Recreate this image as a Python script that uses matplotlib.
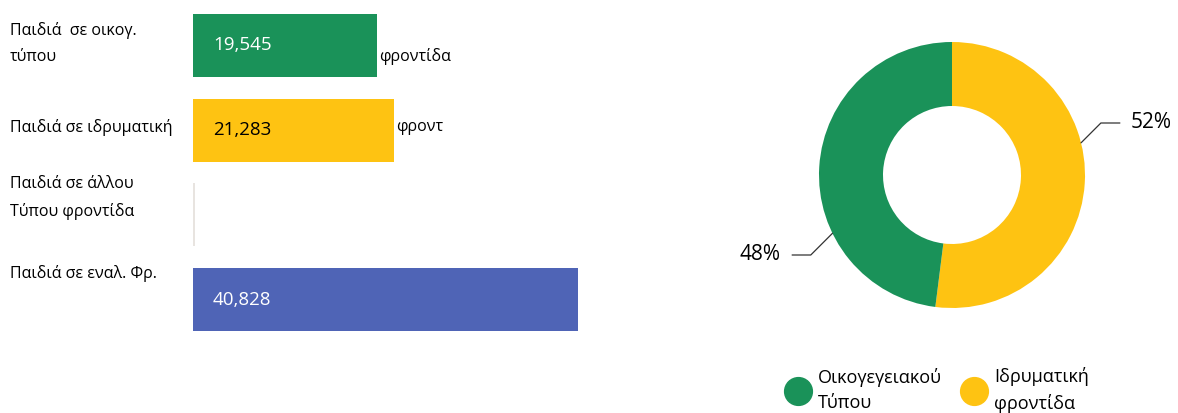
import numpy as np
import matplotlib.pyplot as plt
import matplotlib.transforms as mtransforms
from matplotlib.lines import Line2D

plt.rcParams['font.family'] = ['Open Sans', 'DejaVu Sans']

# bar chart data
bar_labels = ['Παιδιά  σε οικογ.\nτύπου', 'Παιδιά σε ιδρυματική', 'Παιδιά σε άλλου\nΤύπου φροντίδα', 'Παιδιά σε εναλ. Φρ.']
bar_values = [19545, 21283, 200, 40828]
bar_texts = ['19,545', '21,283', '', '40,828']
bar_overflow = ['φροντίδα', 'φροντ', '', '']
bar_colors = ['#1a9259', '#fec312', '#e8e4e0', '#4f64b6']
text_colors = ['white', 'black', 'black', 'white']

# donut data
pie_labels = ['Οικογεγειακού\nΤύπου', 'Ιδρυματική\nφροντίδα']
pie_values = [48, 52]
pie_colors = ['#1a9259', '#fec312']

W, H = 1178, 413
fig = plt.figure(figsize=(W / 100, H / 100), dpi=100)

# ---- bars ----
ax = fig.add_axes([193 / W, 1 - 331 / H, 385 / W, 317 / H])
pos = list(range(len(bar_values)))
bh = 0.744
ax.barh(pos, bar_values, height=bh, color=bar_colors)
ax.set_xlim(0, max(bar_values))
ax.set_ylim(len(pos) - 1 + bh / 2, -bh / 2)
ax.axis('off')

trans = mtransforms.blended_transform_factory(fig.transFigure, ax.transData)
label_dy = [2, 3, 17, 26]
for i, lab in enumerate(bar_labels):
    ax.annotate(lab, xy=(10 / W, i), xycoords=trans, xytext=(0, label_dy[i]),
                textcoords='offset pixels', ha='left', va='center',
                fontsize=11.5, linespacing=1.8)
for i, (v, t) in enumerate(zip(bar_values, bar_texts)):
    if t:
        ax.annotate(t, xy=(0, i), xytext=(20, 0), textcoords='offset pixels',
                    ha='left', va='center', fontsize=13.5, color=text_colors[i])
    if bar_overflow[i]:
        ax.annotate(bar_overflow[i], xy=(v, i), xytext=(2, -11 if i == 0 else 3),
                    textcoords='offset pixels', ha='left', va='center', fontsize=11.5)

# ---- donut ----
r_px = 133
cx, cy = 952, 175
box = 150
pax = fig.add_axes([(cx - box) / W, 1 - (cy + box) / H, 2 * box / W, 2 * box / H])
pax.pie(pie_values[::-1], colors=pie_colors[::-1], startangle=90,
        counterclock=False, radius=1,
        wedgeprops=dict(width=1 - 69 / r_px, edgecolor='none'))
lim = box / r_px
pax.set_xlim(-lim, lim)
pax.set_ylim(-lim, lim)
pax.set_aspect('equal')
pax.axis('off')

edge_angles = [206, 14]
text_xy = [((781 - cx) / r_px, (cy - 255) / r_px), ((1131 - cx) / r_px, (cy - 123) / r_px)]
for k, v in enumerate(pie_values):
    a = np.deg2rad(edge_angles[k])
    pax.annotate(f'{v}%', xy=(np.cos(a), np.sin(a)), xytext=text_xy[k],
                 ha='right' if k == 0 else 'left', va='center', fontsize=15,
                 annotation_clip=False,
                 arrowprops=dict(arrowstyle='-', color='#333333', lw=0.9,
                                 shrinkA=6, shrinkB=0,
                                 connectionstyle='angle,angleA=0,angleB=45,rad=0'))

handles = [Line2D([], [], marker='o', linestyle='none', markersize=20,
                  markerfacecolor=c, markeredgecolor=c) for c in pie_colors]
leg = fig.legend(handles, pie_labels, loc='center', bbox_to_anchor=(938 / W, 1 - 390 / H),
                 ncol=2, frameon=False, fontsize=13, handletextpad=0.5, columnspacing=1.2,
                 handlelength=1.2)
for t in leg.get_texts():
    t.set_linespacing(1.5)

fig.savefig('out.png', dpi=100)
